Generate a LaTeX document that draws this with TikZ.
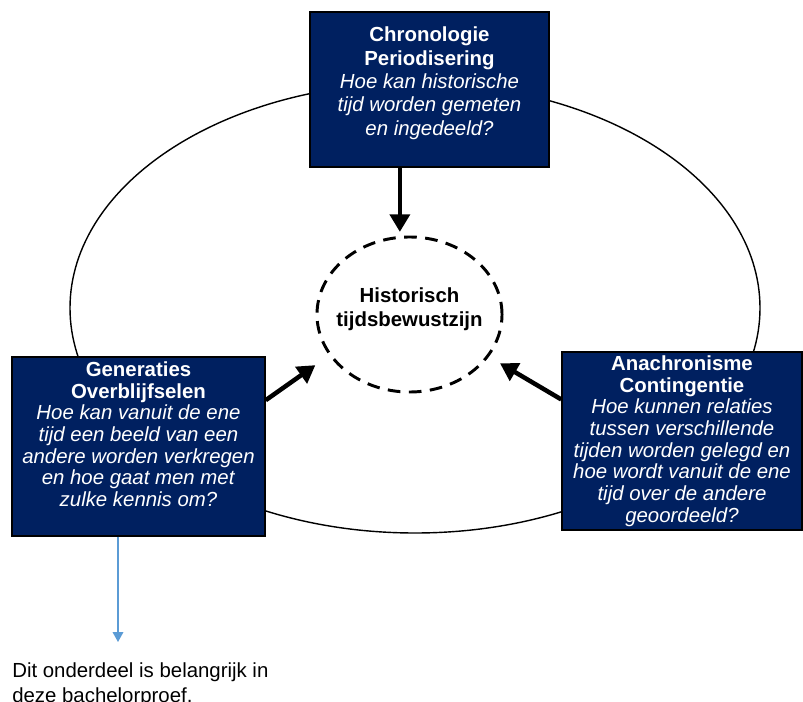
\documentclass[tikz,border=0pt]{standalone}
\usepackage{fontspec}
\setmainfont{Liberation Sans}
\usetikzlibrary{arrows.meta,shapes.geometric}

\definecolor{navy}{RGB}{0,32,96}
\definecolor{noteblue}{RGB}{91,155,213}

\tikzset{
  topic/.style={draw=black, line width=1pt, fill=navy, text=white,
    align=center, inner sep=2pt, font=\fontsize{14.5}{15.4}\selectfont},
  core/.style={ellipse, draw=black, line width=2.1pt, dash pattern=on 9pt off 6pt,
    align=center, font=\fontsize{14.5}{17}\selectfont\bfseries,
    inner xsep=-0.25cm, inner ysep=0pt,
    minimum width=4.625cm, minimum height=3.875cm},
  bigarrow/.style={line width=3.2pt, -{Triangle[width=14pt,length=12.5pt]}},
  notearrow/.style={draw=noteblue, line width=1pt, -{Triangle[width=7.5pt,length=7pt]}}
}

\begin{document}
\begin{tikzpicture}[x=0.025cm, y=-0.025cm]
  \useasboundingbox (0,0) rectangle (803,702);
  % cycle
  \draw[line width=1pt] (415,308) ellipse [x radius=345, y radius=225];

  \node[core] (circ) at (409.5,314.5) {Historisch\\tijdsbewustzijn\\[-7pt]\mbox{}};

  \node[topic, font=\fontsize{14.5}{16.6}\selectfont,
    minimum width=5.975cm, minimum height=3.875cm] (chrono) at (429.5,89.5)
    {\textbf{Chronologie}\\\textbf{Periodisering}\\\textit{Hoe kan historische}\\
     \textit{tijd worden gemeten}\\\textit{en ingedeeld?}\\[-4.6pt]\mbox{}};
  \node[topic, minimum width=6.325cm, minimum height=4.475cm] (gen) at (138.5,446.5)
    {\textbf{Generaties}\\\textbf{Overblijfselen}\\\textit{Hoe kan vanuit de ene}\\
     \textit{tijd een beeld van een}\\\textit{andere worden verkregen}\\
     \textit{en hoe gaat men met}\\\textit{zulke kennis om?}\\[2.4pt]\mbox{}};
  \node[topic, minimum width=6cm, minimum height=4.45cm] (ana) at (682,441)
    {\textbf{Anachronisme}\\\textbf{Contingentie}\\\textit{Hoe kunnen relaties}\\
     \textit{tussen verschillende}\\\textit{tijden worden gelegd en}\\
     \textit{hoe wordt vanuit de ene}\\\textit{tijd over de andere}\\\textit{geoordeeld?}};

  \draw[bigarrow, shorten >=0.1cm] (chrono.south -| circ.97) -- (circ.97);
  \draw[bigarrow, shorten >=0.42cm] (gen.20) -- (circ.207);
  \draw[bigarrow, shorten >=0.32cm] (ana.161) -- (circ.332);

  % remark below
  \coordinate (tip) at (118,642);
  \node[anchor=north west, inner sep=0pt, align=left, font=\fontsize{14.5}{18}\selectfont]
    (note) at (12,662) {Dit onderdeel is belangrijk in\\deze bachelorproef.};
  \draw[notearrow] (gen.south -| tip) -- (tip);
\end{tikzpicture}
\end{document}
